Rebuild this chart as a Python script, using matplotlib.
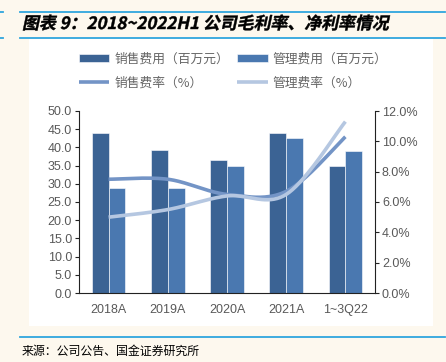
import numpy as np
import matplotlib.pyplot as plt
from matplotlib.textpath import TextPath
from matplotlib.patches import PathPatch, Rectangle
from matplotlib.font_manager import FontProperties
from matplotlib.transforms import Affine2D
from matplotlib.lines import Line2D

plt.rcParams['font.family'] = ['Liberation Sans', 'Noto Sans CJK SC', 'DejaVu Sans']

categories = ['2018A', '2019A', '2020A', '2021A', '1~3Q22']
sales_exp = [44.0, 39.3, 36.6, 43.9, 35.0]
admin_exp = [28.9, 28.9, 34.9, 42.6, 38.9]
sales_rate = [7.5, 7.5, 6.5, 6.7, 10.3]
admin_rate = [5.0, 5.5, 6.4, 6.5, 11.3]

names = ['销售费用（百万元）', '管理费用（百万元）', '销售费率（%）', '管理费率（%）']
c_sales = '#3b6394'
c_admin = '#4a78b0'
c_srate = '#7394c6'
c_arate = '#b5c7e1'
gray = '#595959'
bg = '#fdf8ee'
blue_line = '#2fa6de'


def smooth(x, y, n=40):
    # Catmull-Rom spline through the points (like Excel's smoothed line)
    x = np.asarray(x, float)
    y = np.asarray(y, float)
    px = np.concatenate([[x[0]], x, [x[-1]]])
    py = np.concatenate([[y[0]], y, [y[-1]]])
    xs, ys = [], []
    t = np.linspace(0, 1, n)
    for i in range(1, len(px) - 2):
        for arr, out in ((px, xs), (py, ys)):
            p0, p1, p2, p3 = arr[i - 1], arr[i], arr[i + 1], arr[i + 2]
            m1 = (p2 - p0) / 2
            m2 = (p3 - p1) / 2
            h00 = 2 * t**3 - 3 * t**2 + 1
            h10 = t**3 - 2 * t**2 + t
            h01 = -2 * t**3 + 3 * t**2
            h11 = t**3 - t**2
            out.extend(h00 * p1 + h10 * m1 + h01 * p2 + h11 * m2)
    return np.array(xs), np.array(ys)


W, H = 446, 362
fig = plt.figure(figsize=(W / 100, H / 100), dpi=100)
fig.patch.set_facecolor(bg)

# decorative lines and white panel
for yy in (12, 38, 336.5):
    fig.add_artist(Line2D([20 / W, 445 / W], [1 - yy / H, 1 - yy / H], color=blue_line, lw=1.3))
fig.add_artist(Line2D([0, 3 / W], [1 - 12 / H, 1 - 12 / H], color=blue_line, lw=1.3))
fig.add_artist(Line2D([0, 3 / W], [1 - 38 / H, 1 - 38 / H], color=blue_line, lw=1.3))
fig.add_artist(Rectangle((29 / W, 1 - 326 / H), (433 - 29) / W, (326 - 39) / H,
                         transform=fig.transFigure, facecolor='white', edgecolor='none', zorder=1))

# italic bold title via skewed text path (pixel coordinates)
fp = FontProperties(family='Noto Sans CJK SC', weight='bold')
tp = TextPath((0, 0), '图表 9：2018~2022H1 公司毛利率、净利率情况', prop=fp, size=16.9)
pix = Affine2D().skew_deg(12, 0).translate(22, H - 29) + Affine2D().scale(1 / 100) + fig.dpi_scale_trans
fig.add_artist(PathPatch(tp, transform=pix, facecolor='black', edgecolor='black', lw=0.3, zorder=3))

fig.text(22 / W, 1 - 351 / H, '来源：公司公告、国金证券研究所', fontsize=8.6, color='black',
         family=['Noto Sans CJK SC', 'DejaVu Sans'], va='center')

ax = fig.add_axes([79 / W, 1 - 293 / H, (375 - 79) / W, (293 - 111) / H])
ax.set_zorder(2)
ax.patch.set_visible(False)
x = np.arange(len(categories))
bw = 0.285
b1 = ax.bar(x - bw / 2, sales_exp, bw, color=c_sales, edgecolor='white', linewidth=0.4)
b2 = ax.bar(x + bw / 2, admin_exp, bw, color=c_admin, edgecolor='white', linewidth=0.4)
ax.set_xlim(-0.5, len(categories) - 0.5)
ax.set_ylim(0, 50)
ax.set_yticks(np.arange(0, 50.1, 5))
ax.set_yticklabels([f'{v:.1f}' for v in np.arange(0, 50.1, 5)])
ax.set_xticks(x)
ax.set_xticklabels(categories)
ax.tick_params(axis='x', length=0, pad=8, labelsize=9, labelcolor=gray)
ax.tick_params(axis='y', length=3, width=0.8, pad=2, labelsize=9, labelcolor=gray, color='#222222')
for s in ('top', 'right'):
    ax.spines[s].set_visible(False)
ax.spines['left'].set_color('#222222')
ax.spines['bottom'].set_color('#222222')

ax2 = ax.twinx()
sx, sy = smooth(x, sales_rate)
l1, = ax2.plot(sx, sy, color=c_srate, lw=2.6, solid_capstyle='butt')
ax_, ay_ = smooth(x, admin_rate)
l2, = ax2.plot(ax_, ay_, color=c_arate, lw=2.6, solid_capstyle='butt')
ax2.set_ylim(0, 12)
ax2.set_yticks(np.arange(0, 12.1, 2))
ax2.set_yticklabels([f'{v:.1f}%' for v in np.arange(0, 12.1, 2)])
ax2.tick_params(axis='y', length=3, width=0.8, pad=2, labelsize=9, labelcolor=gray, color='#222222')
for s in ('top', 'left', 'bottom'):
    ax2.spines[s].set_visible(False)
ax2.spines['right'].set_color('#222222')

leg = fig.legend([b1, l1, b2, l2], [names[0], names[2], names[1], names[3]],
                 ncol=2, loc='center', bbox_to_anchor=(233 / W, 1 - 71 / H), frameon=False,
                 prop=FontProperties(family='Noto Sans CJK SC', size=9.2),
                 labelcolor='#666666', handlelength=2.4, handleheight=0.6, handletextpad=0.4,
                 columnspacing=0.6, labelspacing=0.9)

fig.savefig('out.png', dpi=100, facecolor=bg)
